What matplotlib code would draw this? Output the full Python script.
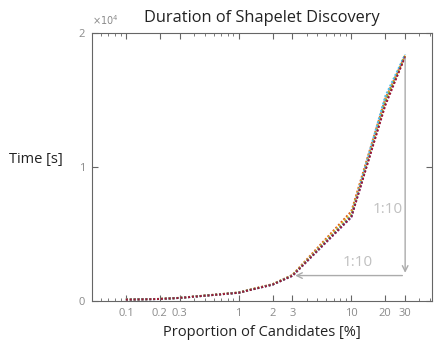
import matplotlib
matplotlib.use("Agg")
import matplotlib.pyplot as plt
from matplotlib.ticker import FixedLocator, NullFormatter

plt.rcParams["font.family"] = ["Open Sans", "DejaVu Sans"]

proportions = [0.1, 0.2, 0.3, 1, 2, 3, 10, 20, 30]
series = [
    [100, 150, 230, 620, 1230, 1900, 6300, 14900, 18400],
    [110, 160, 240, 640, 1260, 1950, 6700, 15100, 18300],
    [105, 155, 235, 630, 1250, 1930, 6550, 15000, 18350],
    [100, 150, 230, 615, 1220, 1880, 6250, 14700, 18300],
    [105, 155, 235, 625, 1240, 1910, 6400, 14850, 18350],
    [100, 150, 230, 620, 1230, 1900, 6350, 15300, 18400],
    [100, 150, 230, 615, 1225, 1890, 6300, 14600, 18250],
]
colors = ["#0072BD", "#D95319", "#EDB120", "#7E2F8E", "#77AC30", "#4DBEEE", "#A2142F"]
xtick_vals = [0.1, 0.2, 0.3, 1, 2, 3, 10, 20, 30]
xtick_labels = ["0.1", "0.2", "0.3", "1", "2", "3", "10", "20", "30"]
ytick_vals = [0, 10000, 20000]
ytick_labels = ["0", "1", "2"]

fig = plt.figure(figsize=(4.36, 3.45), dpi=100)
ax = fig.add_axes([0.211, 0.1275, 0.78, 0.7765])
for s, c in zip(series, colors):
    ax.plot(proportions, s, color=c, linestyle=(0, (1, 1)), linewidth=1.4)

ax.set_xscale("log")
ax.set_xlim(0.05, 52)
ax.set_ylim(0, 20000)
ax.xaxis.set_major_locator(FixedLocator(xtick_vals))
ax.set_xticklabels(xtick_labels)
ax.xaxis.set_minor_formatter(NullFormatter())
ax.set_yticks(ytick_vals)
ax.set_yticklabels(ytick_labels)

gray = "#8a8a8a"
for sp in ax.spines.values():
    sp.set_color("#666666")
    sp.set_linewidth(0.8)
ax.tick_params(axis="both", which="both", direction="in", top=True, right=True,
               colors="#666666", labelcolor=gray, labelsize=8, pad=5)
ax.tick_params(which="major", length=4)
ax.tick_params(which="minor", length=2)

ax.text(0.0, 1.02, r"$\times10^4$", transform=ax.transAxes, fontsize=7, color=gray,
        ha="left", va="bottom")

arrow_col = "#ababab"
ax.annotate("", xy=(30, 1900), xytext=(30, 18350),
            arrowprops=dict(arrowstyle="->", color=arrow_col, lw=1))
ax.annotate("", xy=(3, 1900), xytext=(30, 1900),
            arrowprops=dict(arrowstyle="->", color=arrow_col, lw=1))
ax.text(11.3, 2350, "1:10", color="#c0c0c0", fontsize=11, ha="center", va="bottom")
ax.text(21.2, 6800, "1:10", color="#c0c0c0", fontsize=11, ha="center", va="center")

ax.set_title("Duration of Shapelet Discovery", fontsize=11.8, color="#222222", pad=8)
ax.set_xlabel("Proportion of Candidates [%]", fontsize=10.5, color="#222222", labelpad=4)
ax.set_ylabel("Time [s]", fontsize=10.5, color="#222222", rotation=0, labelpad=0)
ax.yaxis.set_label_coords(-0.165, 0.5)

fig.savefig("out.png", dpi=100)
